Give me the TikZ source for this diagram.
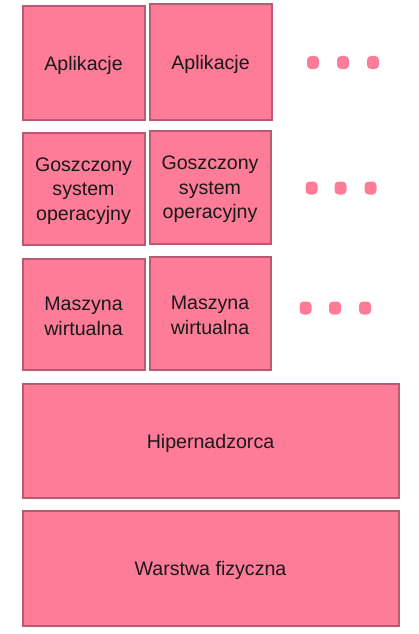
\documentclass[tikz,border=0pt]{standalone}
\usepackage{fontspec}
\setmainfont{Liberation Sans}
\definecolor{boxfill}{RGB}{255,124,152}
\definecolor{boxline}{RGB}{185,90,112}
\begin{document}
\begin{tikzpicture}[x=1pt,y=-1pt,
  txt/.style={align=center, inner sep=0pt, font=\fontsize{19.6}{24.5}\selectfont, text=black!90, yshift=-2.5pt},
  layer/.style={draw=boxline, fill=boxfill, line width=2pt, inner sep=0pt},
  dot/.style={fill=boxfill, draw=none, rounded corners=4pt, minimum width=12pt, minimum height=13pt, inner sep=0pt}]
\useasboundingbox (0,0) rectangle (419,634);
% row 1
\node[layer, minimum width=122pt, minimum height=113pt, label={[txt]center:Aplikacje}] (app1) at (83.5,63) {};
\node[layer, minimum width=122pt, minimum height=115pt, label={[txt]center:Aplikacje}] (app2) at (210.5,62) {};
% row 2
\node[layer, minimum width=122pt, minimum height=112pt, label={[txt]center:Goszczony\\system\\operacyjny}] (os1) at (83.5,188.5) {};
\node[layer, minimum width=121pt, minimum height=113pt, label={[txt]center:Goszczony\\system\\operacyjny}] (os2) at (210,187) {};
% row 3
\node[layer, minimum width=122pt, minimum height=111pt, label={[txt]center:Maszyna\\wirtualna}] (vm1) at (83.5,314) {};
\node[layer, minimum width=121pt, minimum height=113pt, label={[txt]center:Maszyna\\wirtualna}] (vm2) at (210,313) {};
% hypervisor and hardware
\node[layer, minimum width=376pt, minimum height=114pt, label={[txt]center:Hipernadzorca}] (hyp) at (210.5,440.5) {};
\node[layer, minimum width=376pt, minimum height=115pt, label={[txt]center:Warstwa fizyczna}] (hw) at (210.5,568) {};
% dots
\node[dot] (d11) at (313,62.5) {};
\node[dot] (d12) at (343,62.5) {};
\node[dot] (d13) at (373,62.5) {};
\node[dot] (d21) at (311.5,188) {};
\node[dot] (d22) at (340.5,188) {};
\node[dot] (d23) at (370.5,188) {};
\node[dot] (d31) at (305.5,308) {};
\node[dot] (d32) at (335,308) {};
\node[dot] (d33) at (365,308) {};
\end{tikzpicture}
\end{document}
